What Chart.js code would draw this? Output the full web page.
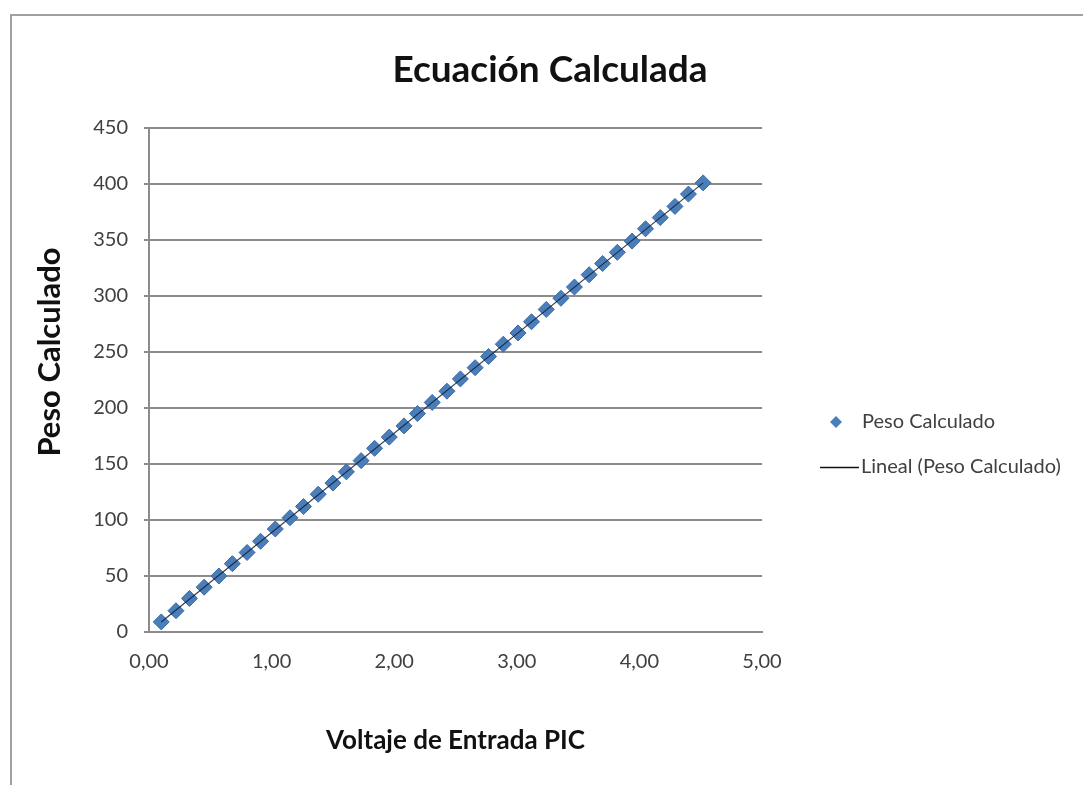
<!DOCTYPE html>
<html>
<head>
<meta charset="utf-8">
<script src="https://cdn.jsdelivr.net/npm/chart.js@4.4.1/dist/chart.umd.min.js"></script>
<style>
  html, body { margin: 0; padding: 0; background: #fff; overflow: hidden; }
  #frame { position: absolute; left: 10px; top: 14px; width: 1200px; height: 900px; border: 2px solid #a0a0a0; }
  #wrap { position: absolute; left: 0; top: 0; width: 1083px; height: 785px; }
</style>
</head>
<body>
<div id="frame"></div>
<div id="wrap"><canvas id="c" width="1083" height="785"></canvas></div>
<script>
// Voltaje de Entrada PIC (V)
const voltaje = [0.10,0.22,0.33,0.45,0.57,0.68,0.80,0.91,1.03,1.15,1.26,1.38,1.50,1.61,1.73,1.84,1.96,2.08,2.19,2.31,2.43,2.54,2.66,2.77,2.89,3.01,3.12,3.24,3.36,3.47,3.59,3.70,3.82,3.94,4.05,4.17,4.29,4.40,4.52];
// Peso Calculado
const peso = [9,19,30,40,50,61,71,81,92,102,112,123,133,143,153,164,174,184,195,205,215,226,236,246,257,267,277,288,298,308,319,329,339,349,360,370,380,391,401];
// Lineal (Peso Calculado) trendline endpoints
const trendX = [0.10, 4.52];
const trendY = [9, 401];
const xTicks = [0,1,2,3,4,5];
const yTicks = [0,50,100,150,200,250,300,350,400,450];

const FONT = 'Lato, "Open Sans", sans-serif';
const TXT = '#404040';
const TITLE = 'Ecuación Calculada';
const Y_TITLE = 'Peso Calculado';

const scatterData = voltaje.map((v, i) => ({x: v, y: peso[i]}));
const trendData = trendX.map((v, i) => ({x: v, y: trendY[i]}));

const decorPlugin = {
  id: 'decor',
  afterDraw(chart) {
    const ctx = chart.ctx;
    ctx.save();
    // chart title
    ctx.font = 'bold 37px ' + FONT;
    ctx.fillStyle = '#111';
    ctx.textAlign = 'center';
    ctx.textBaseline = 'middle';
    ctx.fillText(TITLE, 550, 70);
    // y axis title
    ctx.save();
    ctx.translate(50, 352);
    ctx.rotate(-Math.PI / 2);
    ctx.font = 'bold 31px ' + FONT;
    ctx.fillText(Y_TITLE, 0, 0);
    ctx.restore();
    // legend
    ctx.textAlign = 'left';
    const dx = 836, dy = 422, r = 6;
    ctx.beginPath();
    ctx.moveTo(dx, dy - r); ctx.lineTo(dx + r, dy); ctx.lineTo(dx, dy + r); ctx.lineTo(dx - r, dy); ctx.closePath();
    ctx.fillStyle = '#4a7ebb'; ctx.fill();
    ctx.font = '20px ' + FONT;
    ctx.fillStyle = TXT;
    ctx.fillText(chart.data.datasets[0].label, 862, 422);
    ctx.beginPath();
    ctx.moveTo(820, 467.5); ctx.lineTo(859, 467.5);
    ctx.strokeStyle = '#111'; ctx.lineWidth = 1.5; ctx.stroke();
    ctx.fillText(chart.data.datasets[1].label, 861, 467);
    ctx.restore();
  }
};

new Chart(document.getElementById('c'), {
  type: 'scatter',
  data: {
    datasets: [
      {
        label: 'Peso Calculado',
        data: scatterData,
        pointStyle: 'rectRot',
        pointRadius: 8,
        backgroundColor: '#4a7ebb',
        borderColor: '#3b69a3',
        borderWidth: 1,
        order: 1
      },
      {
        type: 'line',
        label: 'Lineal (Peso Calculado)',
        data: trendData,
        borderColor: 'rgba(20,30,50,0.85)',
        borderWidth: 1.2,
        pointRadius: 0,
        fill: false,
        order: 0
      }
    ]
  },
  options: {
    responsive: false,
    animation: false,
    devicePixelRatio: 1,
    layout: { padding: { left: 0, right: 321, top: 128, bottom: 0 } },
    plugins: {
      legend: { display: false },
      tooltip: { enabled: false },
      title: { display: false }
    },
    scales: {
      x: {
        type: 'linear',
        min: 0, max: 5,
        afterFit(s) { s.height = 153; },
        afterBuildTicks(s) { s.ticks = xTicks.map(v => ({value: v})); },
        grid: { display: false },
        border: { display: true, color: '#8c8c8c', width: 2 },
        ticks: {
          color: TXT,
          padding: 10,
          font: { family: FONT, size: 20 },
          callback: v => v.toFixed(2).replace('.', ',')
        },
        title: {
          display: true,
          text: 'Voltaje de Entrada PIC',
          color: '#111',
          font: { family: FONT, size: 26, weight: 'bold' },
          padding: { top: 0, bottom: 29 }
        }
      },
      y: {
        type: 'linear',
        min: 0, max: 450,
        afterFit(s) { s.width = 149; },
        afterBuildTicks(s) { s.ticks = yTicks.map(v => ({value: v})); },
        grid: { color: '#8c8c8c', lineWidth: 2, tickLength: 5, drawTicks: true },
        border: { display: true, color: '#8c8c8c', width: 2 },
        ticks: {
          color: TXT,
          padding: 16,
          font: { family: FONT, size: 20 }
        },
        title: { display: false }
      }
    }
  },
  plugins: [decorPlugin]
});
</script>
</body>
</html>
